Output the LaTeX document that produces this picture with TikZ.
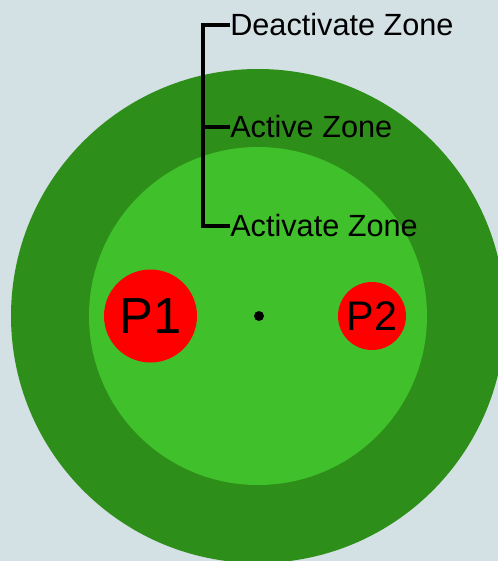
\documentclass[tikz,border=0pt]{standalone}
\usepackage{fontspec}
\setmainfont{Liberation Sans}
\definecolor{bgblue}{RGB}{211,224,228}
\definecolor{outergreen}{RGB}{46,142,26}
\definecolor{innergreen}{RGB}{64,192,42}
\tikzset{
  zone/.style={circle,inner sep=0pt},
  zonelabel/.style={anchor=west,inner sep=0pt,font=\fontsize{23}{27}\selectfont},
  player/.style={circle,fill=red,inner sep=0pt},
  bracket/.style={line width=3pt,black}
}

\begin{document}
\begin{tikzpicture}[x=0.75pt,y=-0.75pt]
  \useasboundingbox[fill=bgblue] (0,0) rectangle (498,561);
  % the two zones, cut off at the page edge
  \begin{scope}
    \clip (0,0) rectangle (498,561);
    \node[zone,fill=outergreen,minimum size=370.5pt] (outer) at (258,316) {};
    \node[zone,fill=innergreen,minimum size=253.5pt] (inner) at (258,316) {};
  \end{scope}

  % players and the centre
  \node[player,minimum size=69.75pt,font=\fontsize{38}{42}\selectfont] (p1) at (150.5,316) {P1};
  \node[player,minimum size=51pt,font=\fontsize{31}{35}\selectfont] (p2) at (372,316) {P2};
  \node[circle,fill=black,inner sep=0pt,minimum size=7.5pt] (centre) at (259,316) {};

  % labels
  \node[zonelabel] (deact) at (230,25) {Deactivate Zone};
  \node[zonelabel] (active) at (230,127) {Active Zone};
  \node[zonelabel] (activate) at (230,226) {Activate Zone};

  \draw[bracket] (deact.west) -- ++(-27,0) coordinate (spine) |- (activate.west);
  \draw[bracket] (active.west) -- (active.west -| spine);
\end{tikzpicture}
\end{document}
